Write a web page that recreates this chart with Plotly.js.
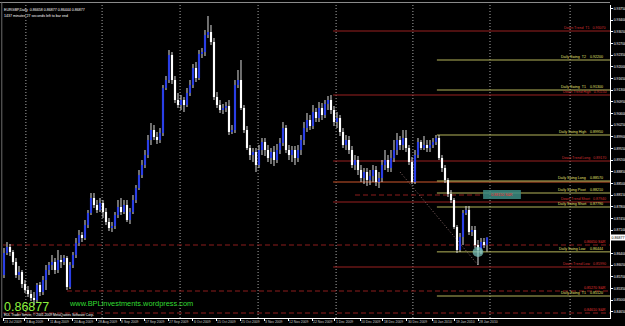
<!DOCTYPE html>
<html><head><meta charset="utf-8">
<script src="https://cdn.plot.ly/plotly-3.0.1.min.js"></script>
<style>html,body{margin:0;padding:0;background:#000;}#chart{width:625px;height:326px;}</style>
</head><body><div id="chart"></div>
<script>
// ---- Candle data (EURGBP Daily) ----
const openP = [0.8575,0.8641,0.8659,0.8644,0.8614,0.8575,0.8584,0.8548,0.8530,0.8518,
0.8506,0.8500,0.8545,0.8524,0.8560,0.8590,0.8605,0.8614,0.8590,0.8620,
0.8614,0.8626,0.8539,0.8605,0.8635,0.8671,0.8695,0.8686,0.8725,0.8761,
0.8806,0.8785,0.8770,0.8791,0.8764,0.8734,0.8716,0.8722,0.8755,0.8779,
0.8764,0.8785,0.8740,0.8764,0.8800,0.8836,0.8875,0.8905,0.8935,0.8980,
0.9010,0.8989,0.8980,0.9001,0.9136,0.9160,0.9235,0.9160,0.9100,0.9085,
0.9100,0.9085,0.9121,0.9145,0.9196,0.9166,0.9238,0.9244,0.9295,0.9304,
0.9274,0.9109,0.9085,0.9070,0.9076,0.9082,0.9004,0.9010,0.9145,0.9160,
0.9076,0.9010,0.8956,0.8935,0.8944,0.8905,0.8950,0.8974,0.8950,0.8926,
0.8944,0.8920,0.8950,0.8971,0.9016,0.8950,0.8935,0.8950,0.8926,0.8950,
0.8980,0.9016,0.9040,0.9022,0.9064,0.9046,0.9076,0.9055,0.9088,0.9100,
0.9070,0.9034,0.9046,0.9004,0.8965,0.8980,0.8950,0.8905,0.8920,0.8890,
0.8866,0.8884,0.8860,0.8872,0.8890,0.8854,0.8866,0.8905,0.8920,0.8896,
0.8926,0.8950,0.8980,0.8965,0.8986,0.8956,0.8914,0.8854,0.8935,0.8974,
0.8956,0.8965,0.8956,0.8965,0.8974,0.8986,0.8926,0.8896,0.8860,0.8818,
0.8800,0.8719,0.8650,0.8689,0.8761,0.8770,0.8704,0.8710,0.8665,0.8650,
0.8674,0.86658];
const highP = [0.8656,0.8674,0.8668,0.8650,0.8626,0.8602,0.8590,0.8560,0.8542,0.8530,
0.8524,0.8551,0.8554,0.8572,0.8605,0.8614,0.8635,0.8626,0.8650,0.8635,
0.8635,0.8632,0.8614,0.8644,0.8686,0.8710,0.8704,0.8740,0.8770,0.8821,
0.8821,0.8800,0.8806,0.8800,0.8776,0.8746,0.8734,0.8764,0.8800,0.8806,
0.8800,0.8800,0.8776,0.8815,0.8845,0.8890,0.8920,0.8950,0.8995,0.9031,
0.9025,0.9004,0.9016,0.9145,0.9172,0.9250,0.9244,0.9172,0.9121,0.9115,
0.9109,0.9136,0.9160,0.9208,0.9214,0.9250,0.9256,0.9310,0.9352,0.9325,
0.9286,0.9124,0.9100,0.9088,0.9094,0.9100,0.9025,0.9160,0.9190,0.9220,
0.9085,0.9022,0.8965,0.8956,0.8956,0.8965,0.8986,0.8986,0.8965,0.8956,
0.8962,0.8968,0.8986,0.9034,0.9025,0.8965,0.8962,0.8962,0.8965,0.8995,
0.9034,0.9061,0.9055,0.9085,0.9076,0.9094,0.9091,0.9100,0.9112,0.9115,
0.9082,0.9064,0.9055,0.9016,0.8995,0.8992,0.8962,0.8935,0.8932,0.8905,
0.8896,0.8896,0.8890,0.8905,0.8902,0.8884,0.8920,0.8950,0.8935,0.8950,
0.8980,0.9001,0.8992,0.9010,0.9010,0.8965,0.8929,0.8950,0.8986,0.8980,
0.8992,0.8980,0.8980,0.8986,0.8995,0.8995,0.8935,0.8905,0.8866,0.8830,
0.8806,0.8725,0.8701,0.8770,0.8782,0.8782,0.8722,0.8722,0.8680,0.8686,
0.8686,0.86877];
const lowP = [0.8566,0.8635,0.8632,0.8605,0.8566,0.8560,0.8536,0.8521,0.8509,0.8497,
0.8485,0.8494,0.8512,0.8515,0.8530,0.8575,0.8590,0.8578,0.8581,0.8596,
0.8605,0.8530,0.8533,0.8596,0.8626,0.8662,0.8674,0.8680,0.8716,0.8755,
0.8776,0.8761,0.8764,0.8746,0.8725,0.8707,0.8704,0.8713,0.8746,0.8755,
0.8758,0.8734,0.8728,0.8758,0.8791,0.8830,0.8866,0.8896,0.8926,0.8965,
0.8980,0.8968,0.8971,0.8992,0.9130,0.9151,0.9148,0.9091,0.9076,0.9070,
0.9064,0.9079,0.9112,0.9136,0.9154,0.9160,0.9226,0.9232,0.9286,0.9265,
0.9100,0.9076,0.9061,0.9058,0.9064,0.8995,0.8998,0.9001,0.9136,0.9070,
0.9001,0.8950,0.8920,0.8914,0.8884,0.8896,0.8935,0.8932,0.8914,0.8908,
0.8902,0.8911,0.8938,0.8962,0.8941,0.8920,0.8914,0.8905,0.8914,0.8935,
0.8965,0.9004,0.9010,0.9013,0.9034,0.9034,0.9040,0.9046,0.9070,0.9058,
0.9022,0.9016,0.8992,0.8956,0.8950,0.8938,0.8896,0.8890,0.8875,0.8854,
0.8848,0.8842,0.8845,0.8854,0.8842,0.8836,0.8854,0.8890,0.8884,0.8884,
0.8914,0.8935,0.8950,0.8950,0.8944,0.8905,0.8848,0.8848,0.8926,0.8950,
0.8950,0.8944,0.8944,0.8956,0.8965,0.8920,0.8884,0.8851,0.8809,0.8791,
0.8713,0.8641,0.8644,0.8665,0.8755,0.8695,0.8692,0.8656,0.8605,0.8638,
0.8656,0.86444];
const closeP = [0.8641,0.8659,0.8644,0.8614,0.8575,0.8584,0.8548,0.8530,0.8518,0.8506,
0.8500,0.8545,0.8524,0.8560,0.8590,0.8605,0.8614,0.8590,0.8620,0.8614,
0.8626,0.8539,0.8605,0.8635,0.8671,0.8695,0.8686,0.8725,0.8761,0.8806,
0.8785,0.8770,0.8791,0.8764,0.8734,0.8716,0.8722,0.8755,0.8779,0.8764,
0.8785,0.8740,0.8764,0.8800,0.8836,0.8875,0.8905,0.8935,0.8980,0.9010,
0.8989,0.8980,0.9001,0.9136,0.9160,0.9235,0.9160,0.9100,0.9085,0.9100,
0.9085,0.9121,0.9145,0.9196,0.9166,0.9238,0.9244,0.9295,0.9304,0.9274,
0.9109,0.9085,0.9070,0.9076,0.9082,0.9004,0.9010,0.9145,0.9160,0.9076,
0.9010,0.8956,0.8935,0.8944,0.8905,0.8950,0.8974,0.8950,0.8926,0.8944,
0.8920,0.8950,0.8971,0.9016,0.8950,0.8935,0.8950,0.8926,0.8950,0.8980,
0.9016,0.9040,0.9022,0.9064,0.9046,0.9076,0.9055,0.9088,0.9100,0.9070,
0.9034,0.9046,0.9004,0.8965,0.8980,0.8950,0.8905,0.8920,0.8890,0.8866,
0.8884,0.8860,0.8872,0.8890,0.8854,0.8866,0.8905,0.8920,0.8896,0.8926,
0.8950,0.8980,0.8965,0.8986,0.8956,0.8914,0.8854,0.8935,0.8974,0.8956,
0.8965,0.8956,0.8965,0.8974,0.8986,0.8926,0.8896,0.8860,0.8818,0.8800,
0.8719,0.8650,0.8689,0.8761,0.8770,0.8704,0.8710,0.8665,0.8650,0.8674,
0.8665,0.86877];

// ---- Axis labels ----
const dateLabels = ["23 Jul 2009","3 Aug 2009","11 Aug 2009","20 Aug 2009","28 Aug 2009","8 Sep 2009","17 Sep 2009","27 Sep 2009","6 Oct 2009","15 Oct 2009","25 Oct 2009","3 Nov 2009","12 Nov 2009","22 Nov 2009","1 Dec 2009","10 Dec 2009","18 Dec 2009","30 Dec 2009","10 Jan 2010","19 Jan 2010","28 Jan 2010"];
const dateBars = [-0.3,7,15,23,31,38.7,46.7,54.7,63,70.7,78.7,86.7,94.7,102.7,110.3,118.7,126.3,134.3,142.7,150.3,158];
const priceTicks = [0.9375,0.9340,0.9305,0.9270,0.9235,0.9200,0.9165,0.9130,0.9095,0.9060,0.9025,0.8990,0.8955,0.8920,0.8885,0.8850,0.8815,0.8780,0.8745,0.8710,0.8640,0.8605,0.8570,0.8535,0.8500,0.8465];
const gridBars = [7.3,32.7,58.7,84.7,110.7,136.3,162,188.7];

// ---- Levels ----
const swingNames  = ["Daily Swing  T2","Daily Swing  T1","Daily Swing High","Daily Swing Long","Daily Swing Pivot","Daily Swing Short","Daily Swing Low","Daily Swing  T1"];
const swingPrices = [0.9220,0.9130,0.8995,0.8857,0.8821,0.8779,0.86444,0.8512];
const swingStart = 144.3;
const trendNames  = ["Down Trend  T1","Down Trend High","Down Trend Long","Down Trend Short","Down Trend Low"];
const trendPrices = [0.9307,0.9115,0.8917,0.8794,0.8599];
const trendStart = 109.7;
const longZone = 0.8854;
const srPrices = [0.8665,0.8527,0.8461];
const srStart  = [-1,21,-1];
const pivotSR = 0.8815;
const lastPrice = 0.86877;

if (![highP,lowP,closeP].every(a => a.length === openP.length)) throw new Error("length mismatch");

const idx = openP.map((_, i) => i);
const bodyBase = openP.map((o, i) => Math.min(o, closeP[i]));
const bodyH = openP.map((o, i) => Math.max(Math.abs(closeP[i] - o), 0.00007));
const bodyCol = openP.map((o, i) => closeP[i] >= o ? '#2a3ee6' : '#ffffff');
const wickH = highP.map((h, i) => h - lowP[i]);

const traces = [
  {type:'bar', x:idx, base:lowP, y:wickH, width:0.34, marker:{color:'#d8d8d8'}, hoverinfo:'skip'},
  {type:'bar', x:idx, base:bodyBase, y:bodyH, width:0.72, marker:{color:bodyCol}, hoverinfo:'skip'}
];

const OLIVE = '#b4b45a', DRED = '#9a2020';
const shapes = [];
const ann = [];
const F = "Liberation Sans, Arial, sans-serif";
const px2paper = p => (p - 3) / 607;

gridBars.forEach(g => shapes.push({type:'line', xref:'x', yref:'paper', x0:g, x1:g, y0:0, y1:1, layer:'below', line:{color:'#a8a8a8', width:1, dash:'1px,2px'}}));

// brownish long-zone line under the swing long level
shapes.push({type:'line', xref:'x', yref:'y', x0:trendStart, x1:202, y0:longZone, y1:longZone, layer:'below', line:{color:'#8a3a1e', width:1.5}});

trendPrices.forEach((p, k) => {
  shapes.push({type:'line', xref:'x', yref:'y', x0:trendStart, x1:202, y0:p, y1:p, layer:'below', line:{color:DRED, width:1}});
  ann.push({xref:'paper', yref:'y', x:px2paper(607), y:p, xanchor:'right', yanchor:'bottom', showarrow:false, borderpad:0,
    text: trendNames[k] + '   ' + p.toFixed(5), font:{family:F, size:3.6, color:'#d03030'}});
});
swingPrices.forEach((p, k) => {
  shapes.push({type:'line', xref:'x', yref:'y', x0:swingStart, x1:202, y0:p, y1:p, layer:'below', line:{color:OLIVE, width:1}});
  ann.push({xref:'paper', yref:'y', x:px2paper(587), y:p, xanchor:'right', yanchor:'bottom', showarrow:false, borderpad:0,
    text: swingNames[k], font:{family:F, size:3.6, color:'#e0e070'}});
  ann.push({xref:'paper', yref:'y', x:px2paper(604), y:p, xanchor:'right', yanchor:'bottom', showarrow:false, borderpad:0,
    text: p.toFixed(5), font:{family:F, size:3.6, color:'#e0e070'}});
});
srPrices.forEach((p, k) => {
  shapes.push({type:'line', xref:'x', yref:'y', x0:srStart[k], x1:202, y0:p, y1:p, layer:'below', line:{color:'#8c1c1c', width:1, dash:'5px,3px'}});
  ann.push({xref:'paper', yref:'y', x:px2paper(607), y:p, xanchor:'right', yanchor:'bottom', showarrow:false, borderpad:0,
    text: p.toFixed(5) + ' S&R', font:{family:F, size:3.6, color:'#e03030'}});
});
// pivot S&R with label box
shapes.push({type:'line', xref:'x', yref:'y', x0:117, x1:160, y0:pivotSR, y1:pivotSR, layer:'below', line:{color:'#8c1c1c', width:1, dash:'5px,3px'}});
shapes.push({type:'rect', xref:'x', yref:'y', x0:159.7, x1:172.3, y0:0.8803, y1:0.8830, layer:'below', fillcolor:'#3c8c84', opacity:0.85, line:{width:0}});
ann.push({xref:'x', yref:'y', x:166, y:0.88165, showarrow:false, borderpad:0, text: pivotSR.toFixed(5)+' S&R', font:{family:F, size:3.6, color:'#ff3030'}});
// dotted diagonal trend line
shapes.push({type:'line', xref:'x', yref:'y', x0:132, x1:158, y0:0.8884, y1:0.8605, layer:'below', line:{color:'#8a6a6a', width:1, dash:'1px,2px'}});
// circle marker at swing low
shapes.push({type:'circle', xref:'x', yref:'y', x0:156.2, x1:159.8, y0:0.8629, y1:0.8659, layer:'above', fillcolor:'#7cc8c0', opacity:0.7, line:{width:0}});
// top / left border
shapes.push({type:'line', xref:'paper', yref:'paper', x0:-0.005, x1:1, y0:1.008, y1:1.008, line:{color:'#8c8c8c', width:1}});
shapes.push({type:'line', xref:'paper', yref:'paper', x0:-0.002, x1:-0.002, y0:0, y1:1.01, line:{color:'#6c6c6c', width:1}});

// texts
ann.push({xref:'paper', yref:'paper', x:0, y:0.995, xanchor:'left', yanchor:'top', showarrow:false, borderpad:0,
  text:'EURGBP,Daily  0.86658 0.86877 0.86444 0.86877', font:{family:F, size:3.6, color:'#ffffff'}});
ann.push({xref:'paper', yref:'paper', x:0, y:0.975, xanchor:'left', yanchor:'top', showarrow:false, borderpad:0,
  text:'1437 minutes 27 seconds left to bar end', font:{family:F, size:3.6, color:'#ffffff'}});
ann.push({xref:'paper', yref:'paper', x:0, y:0.011, xanchor:'left', yanchor:'bottom', showarrow:false, borderpad:0,
  text: lastPrice.toFixed(5), font:{family:F, size:12.5, color:'#8cf03c'}});
ann.push({xref:'paper', yref:'paper', x:px2paper(68), y:0.03, xanchor:'left', yanchor:'bottom', showarrow:false, borderpad:0,
  text:'www.BPLinvestments.wordpress.com', font:{family:F, size:7.4, color:'#33dd33'}});
ann.push({xref:'paper', yref:'paper', x:0, y:0.001, xanchor:'left', yanchor:'bottom', showarrow:false, borderpad:0,
  text:'EDL Trader Server, \u00a9 2001-2009 MetaQuotes Software Corp.', font:{family:F, size:3.3, color:'#ffffff'}});
ann.push({xref:'paper', yref:'y', x:1, y:lastPrice, xanchor:'left', yanchor:'middle', showarrow:false, borderpad:0.6, bgcolor:'#ffffff',
  text: lastPrice.toFixed(5), font:{family:F, size:3.6, color:'#000000'}});

const layout = {
  width:625, height:326, margin:{l:3, r:15, t:5, b:8},
  paper_bgcolor:'#000000', plot_bgcolor:'#000000', showlegend:false, barmode:'overlay',
  xaxis:{range:[-0.33,202], tickvals:dateBars, ticktext:dateLabels, ticklabelposition:'outside right', tickangle:0,
    tickfont:{family:F, size:3.4, color:'#c8c8c8'}, ticks:'outside', ticklen:1.5, tickcolor:'#ffffff',
    showgrid:false, zeroline:false, showline:true, linecolor:'#ffffff', linewidth:1, fixedrange:true, automargin:false},
  yaxis:{side:'right', range:[0.8446,0.9385], tickvals:priceTicks, ticktext:priceTicks.map(v=>v.toFixed(5)),
    tickfont:{family:F, size:3.4, color:'#ffffff'}, ticks:'outside', ticklen:2, tickcolor:'#ffffff',
    showgrid:false, zeroline:false, showline:true, linecolor:'#ffffff', linewidth:1, fixedrange:true, automargin:false},
  shapes:shapes, annotations:ann
};
Plotly.newPlot('chart', traces, layout, {staticPlot:true, displayModeBar:false});
</script></body></html>
